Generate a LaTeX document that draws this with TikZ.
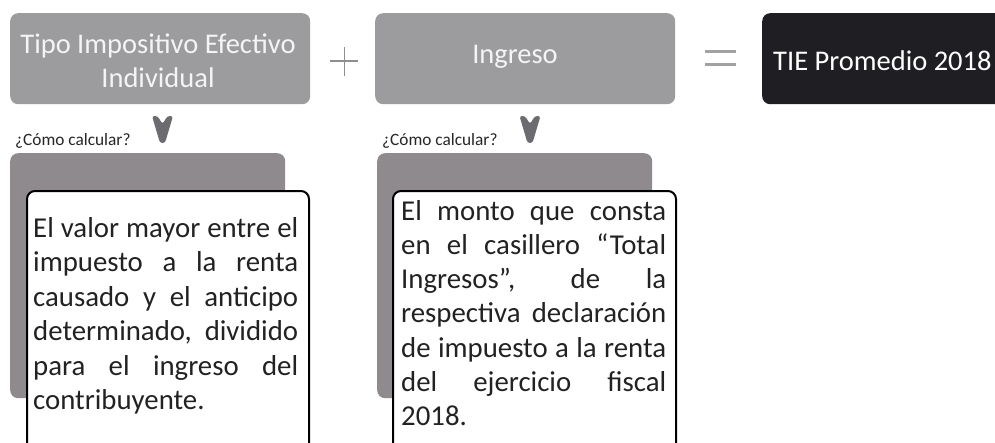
\documentclass[tikz,border=0pt]{standalone}
\usepackage{fontspec}
\setmainfont{Carlito}
\definecolor{topgray}{HTML}{9C9C9F}
\definecolor{backgray}{HTML}{8F8A8E}
\definecolor{chevgray}{HTML}{6C6C70}
\definecolor{darkbox}{HTML}{1F1F23}
\definecolor{toptext}{HTML}{F4F4F4}
\definecolor{bodytext}{HTML}{222222}
\definecolor{opgray}{HTML}{8E8E90}
\definecolor{eqgray}{HTML}{A2A2A4}
\newcommand\jline[1]{\hbox to\hsize{#1}}
\begin{document}
\begin{tikzpicture}[x=1pt,y=-1pt,
  topbox/.style={fill=topgray, rounded corners=8pt, inner sep=0pt, anchor=north west},
  resbox/.style={fill=darkbox, rounded corners=8pt, inner sep=0pt, anchor=north west},
  backbox/.style={fill=backgray, rounded corners=8pt, inner sep=0pt, anchor=north west},
  frontbox/.style={fill=white, draw=black, line width=2pt, rounded corners=8pt, inner sep=0pt, anchor=north west},
  toplabel/.style={inner sep=0pt, anchor=base, text=toptext, font=\fontsize{28.5}{34}\selectfont},
  reslabel/.style={inner sep=0pt, anchor=base west, text=white, font=\fontsize{28.5}{34}\selectfont},
  smalllabel/.style={inner sep=0pt, anchor=base west, text=black!85, font=\fontsize{17.3}{20}\selectfont},
  bodylabel/.style={inner sep=0pt, anchor=base west, text=bodytext, font=\fontsize{28.8}{34.5}\selectfont},
  chev/.style={fill=chevgray, rounded corners=2.5pt},
  opline/.style={draw=opgray, line width=1.6pt},
  eqline/.style={draw=eqgray, line width=3pt}
]
\useasboundingbox (0,0) rectangle (995,442);
\clip (0,0) rectangle (995,442);
\fill[white] (0,0) rectangle (995,442);

% top boxes
\node[topbox, minimum width=300pt, minimum height=91pt] (b1) at (10,13) {};
\node[topbox, minimum width=300pt, minimum height=91pt] (b2) at (375,13) {};
\node[resbox, minimum width=260pt, minimum height=91pt] (b3) at (762,13) {};

\node[toplabel] (t1) at (158,53) {\vtop{\hsize=300pt\parindent=0pt\baselineskip=34pt
  \hbox to\hsize{\hfil Tipo Impositivo Efectivo\hfil}
  \hbox to\hsize{\hfil Individual\hfil}}};
\node[toplabel] (t2) at (515,63) {Ingreso};
\node[reslabel] (t3) at (773,70) {TIE Promedio 2018};

% operators
\coordinate (pl) at (330,61);
\coordinate (pr) at (358,61);
\coordinate (pt) at (344.5,47);
\coordinate (pb) at (344.5,76);
\draw[opline] (pl) -- (pr);
\draw[opline] (pt) -- (pb);
\coordinate (e1l) at (705,51.5);
\coordinate (e1r) at (736,51.5);
\coordinate (e2l) at (705,64);
\coordinate (e2r) at (736,64);
\draw[eqline] (e1l) -- (e1r);
\draw[eqline] (e2l) -- (e2r);

% chevrons
\foreach \cx in {162.5,530} {
  \fill[chev] (\cx-10.5,116) -- (\cx-5,116) -- (\cx,124) -- (\cx+5,116) -- (\cx+10.5,116)
    -- (\cx+2.5,143) -- (\cx-2.5,143) -- cycle;
}

% small labels
\node[smalllabel] (s1) at (15,145) {¿Cómo calcular?};
\node[smalllabel] (s2) at (382,145) {¿Cómo calcular?};

% back boxes
\node[backbox, minimum width=275pt, minimum height=245pt] (k1) at (10,153) {};
\node[backbox, minimum width=275pt, minimum height=245pt] (k2) at (377,153) {};

% front boxes
\node[frontbox, minimum width=282pt, minimum height=280pt] (f1) at (26,190) {};
\node[frontbox, minimum width=283pt, minimum height=280pt] (f2) at (392,190) {};

\node[bodylabel] (x1) at (33,237) {\vtop{\hsize=265pt\parindent=0pt\baselineskip=34.5pt
  \jline{El valor mayor entre el}
  \jline{impuesto a la renta}
  \jline{causado y el anticipo}
  \jline{determinado, dividido}
  \jline{para el ingreso del}
  \hbox{contribuyente.}}};

\node[bodylabel] (x2) at (401,220) {\vtop{\hsize=265pt\parindent=0pt\baselineskip=34.3pt
  \jline{El monto que consta}
  \jline{en el casillero “Total}
  \jline{Ingresos”, de la}
  \jline{respectiva declaración}
  \jline{de impuesto a la renta}
  \jline{del ejercicio fiscal}
  \hbox{2018.}}};
\end{tikzpicture}
\end{document}
